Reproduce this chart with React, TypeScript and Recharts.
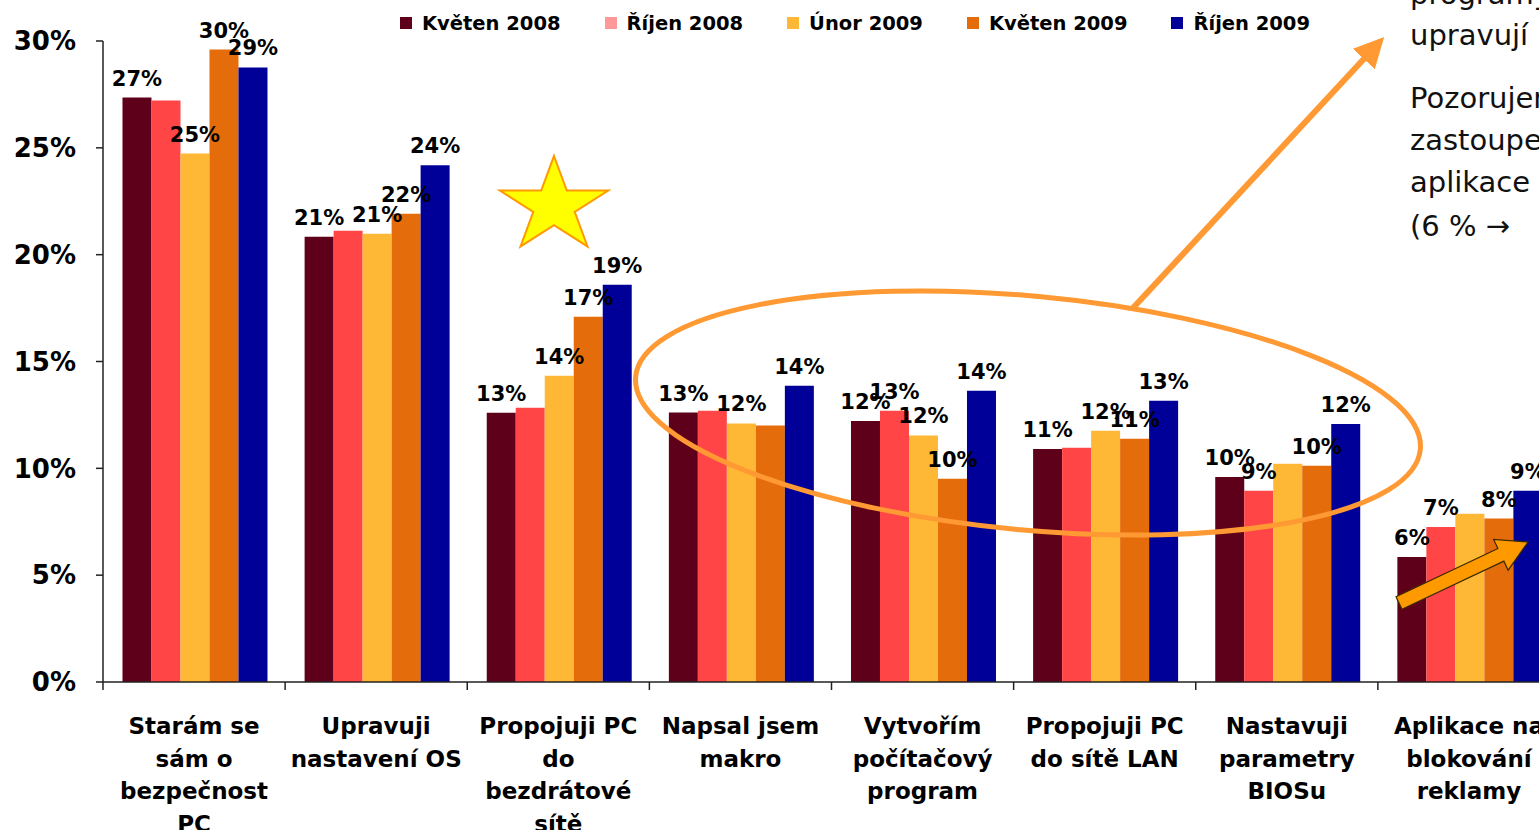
import React from 'react';
import { BarChart, Bar, XAxis, YAxis, LabelList } from 'recharts';

const FONT = "'DejaVu Sans', Verdana, sans-serif";

const CATEGORIES = [
  'Starám se\nsám o\nbezpečnost\nPC',
  'Upravuji\nnastavení OS',
  'Propojuji PC\ndo\nbezdrátové\nsítě',
  'Napsal jsem\nmakro',
  'Vytvořím\npočítačový\nprogram',
  'Propojuji PC\ndo sítě LAN',
  'Nastavuji\nparametry\nBIOSu',
  'Aplikace na\nblokování\nreklamy',
];

// survey waves, share of respondents in %
const KVETEN_2008 = [27.35, 20.84, 12.6, 12.61, 12.22, 10.91, 9.6, 5.85];
const RIJEN_2008 = [27.21, 21.12, 12.83, 12.69, 12.69, 10.96, 8.95, 7.26];
const UNOR_2009 = [24.73, 20.98, 14.33, 12.1, 11.54, 11.76, 10.22, 7.88];
const KVETEN_2009 = [29.6, 21.92, 17.1, 12.01, 9.51, 11.38, 10.12, 7.65];
const RIJEN_2009 = [28.76, 24.19, 18.59, 13.86, 13.63, 13.16, 12.08, 8.95];

const Y_TICKS = [0, 5, 10, 15, 20, 25, 30];

// labels that the slide does not show (category indexes)
const HIDDEN_LABELS: Record<string, number[]> = {
  rijen2008: [0, 1, 2, 3, 5],
  unor2009: [6, 7],
  kveten2009: [3],
};

const SERIES = [
  { key: 'kveten2008', name: 'Květen 2008', values: KVETEN_2008, color: '#5F001B', legend: '#5F001B' },
  { key: 'rijen2008', name: 'Říjen 2008', values: RIJEN_2008, color: '#FF4545', legend: '#FF9999' },
  { key: 'unor2009', name: 'Únor 2009', values: UNOR_2009, color: '#FFB835', legend: '#FFB835' },
  { key: 'kveten2009', name: 'Květen 2009', values: KVETEN_2009, color: '#E46C0A', legend: '#E46C0A' },
  { key: 'rijen2009', name: 'Říjen 2009', values: RIJEN_2009, color: '#000099', legend: '#000099' },
];

const rows = CATEGORIES.map((name, i) => {
  const row: Record<string, string | number> = { name };
  SERIES.forEach((s) => (row[s.key] = s.values[i]));
  return row;
});

const SIDE_TEXT = [
  { text: 'programy', y: 4 },
  { text: 'upravují', y: 45 },
  { text: 'Pozorujeme', y: 108 },
  { text: 'zastoupení', y: 150 },
  { text: 'aplikace na', y: 192 },
  { text: '(6 % →', y: 236 },
];

function CategoryTick(props: any) {
  const { x, y, payload } = props;
  const half = payload.offset || (props.width ? props.width / CATEGORIES.length / 2 : 91.2);
  const lines = String(payload.value).split('\n');
  return (
    <g>
      <line x1={x - half} x2={x - half} y1={y} y2={y + 8} stroke="#222" strokeWidth={1.5} />
      <text
        x={x}
        y={y + 52}
        textAnchor="middle"
        fontFamily={FONT}
        fontWeight={700}
        fontSize={23}
        fill="#000"
      >
        {lines.map((l, i) => (
          <tspan key={i} x={x} dy={i === 0 ? 0 : 32.5}>
            {l}
          </tspan>
        ))}
      </text>
    </g>
  );
}

const makeLabel = (key: string) => (props: any) => {
  const { x, y, width, value, index } = props;
  if ((HIDDEN_LABELS[key] || []).includes(index)) return null;
  return (
    <text
      x={Number(x) + Number(width) / 2}
      y={Number(y) - 12}
      textAnchor="middle"
      fontFamily={FONT}
      fontWeight={700}
      fontSize={21}
      fill="#000"
    >
      {Math.round(Number(value))}%
    </text>
  );
};

function starPoints(cx: number, cy: number, rx: number, ry: number) {
  const pts: string[] = [];
  for (let i = 0; i < 10; i++) {
    const a = -Math.PI / 2 + (i * Math.PI) / 5;
    const r = i % 2 === 0 ? 1 : 0.382;
    pts.push(`${cx + Math.cos(a) * rx * r},${cy + Math.sin(a) * ry * r}`);
  }
  return pts.join(' ');
}

function blockArrow(x0: number, y0: number, x1: number, y1: number, shaft: number, head: number, headLen: number) {
  const len = Math.hypot(x1 - x0, y1 - y0);
  const ux = (x1 - x0) / len;
  const uy = (y1 - y0) / len;
  const nx = -uy;
  const ny = ux;
  const bx = x1 - ux * headLen;
  const by = y1 - uy * headLen;
  const p = [
    [x0 + nx * shaft, y0 + ny * shaft],
    [bx + nx * shaft, by + ny * shaft],
    [bx + nx * head, by + ny * head],
    [x1, y1],
    [bx - nx * head, by - ny * head],
    [bx - nx * shaft, by - ny * shaft],
    [x0 - nx * shaft, y0 - ny * shaft],
  ];
  return p.map((q) => q.join(',')).join(' ');
}

function Annotations() {
  return (
    <svg
      width={1539}
      height={830}
      style={{ position: 'absolute', left: 0, top: 0, pointerEvents: 'none' }}
    >
      <defs>
        <marker id="head" markerWidth="5" markerHeight="5" refX="2.5" refY="2.5" orient="auto">
          <path d="M0,0 L5,2.5 L0,5 Z" fill="#FF9933" />
        </marker>
      </defs>
      <polygon points={starPoints(554, 206, 57, 50)} fill="#FFFF00" stroke="#FF9900" strokeWidth={2} />
      <ellipse
        cx={1028}
        cy={413}
        rx={394}
        ry={117}
        transform="rotate(5.3 1028 413)"
        fill="none"
        stroke="#FF9933"
        strokeWidth={5}
      />
      <line x1={1133} y1={308} x2={1374} y2={48} stroke="#FF9933" strokeWidth={6} markerEnd="url(#head)" />
      <polygon
        points={blockArrow(1399, 603, 1528, 542, 7, 17, 30)}
        fill="#FF9900"
        stroke="#3a2a00"
        strokeWidth={1.2}
      />
      {SIDE_TEXT.map((t) => (
        <text key={t.text} x={1410} y={t.y} fontFamily={FONT} fontSize={29} fill="#111">
          {t.text}
        </text>
      ))}
    </svg>
  );
}

function LegendRow() {
  return (
    <div
      style={{
        position: 'absolute',
        left: 400,
        top: 10,
        display: 'flex',
        gap: 44,
        fontFamily: FONT,
        fontWeight: 700,
        fontSize: 19.5,
        color: '#000',
        whiteSpace: 'nowrap',
      }}
    >
      {SERIES.map((s) => (
        <div key={s.key} style={{ display: 'flex', alignItems: 'center', height: 26 }}>
          <span style={{ width: 12, height: 12, background: s.legend, marginRight: 10 }} />
          <span>{s.name}</span>
        </div>
      ))}
    </div>
  );
}

export default function App() {
  return (
    <div
      style={{
        position: 'fixed',
        left: 0,
        top: 0,
        width: 1539,
        height: 830,
        overflow: 'hidden',
        background: '#fff',
      }}
    >
      <BarChart
        width={1560}
        height={830}
        data={rows}
        margin={{ top: 41, right: 0, bottom: 0, left: 0 }}
        barCategoryGap="10.7%"
        barGap={0}
      >
        <XAxis
          dataKey="name"
          height={148}
          interval={0}
          tickLine={false}
          tickSize={0}
          tickMargin={0}
          axisLine={{ stroke: '#222', strokeWidth: 1.5 }}
          tick={<CategoryTick />}
        />
        <YAxis
          width={103}
          domain={[0, 30]}
          ticks={Y_TICKS}
          tickFormatter={(v: number) => `${v}%`}
          tickSize={7}
          tickMargin={20}
          axisLine={{ stroke: '#222', strokeWidth: 1.5 }}
          tickLine={{ stroke: '#222', strokeWidth: 1.5 }}
          tick={{ fontFamily: FONT, fontWeight: 700, fontSize: 26, fill: '#000' }}
        />
        {SERIES.map((s) => (
          <Bar key={s.key} dataKey={s.key} name={s.name} fill={s.color} isAnimationActive={false}>
            <LabelList dataKey={s.key} content={makeLabel(s.key)} />
          </Bar>
        ))}
      </BarChart>
      <Annotations />
      <LegendRow />
    </div>
  );
}
